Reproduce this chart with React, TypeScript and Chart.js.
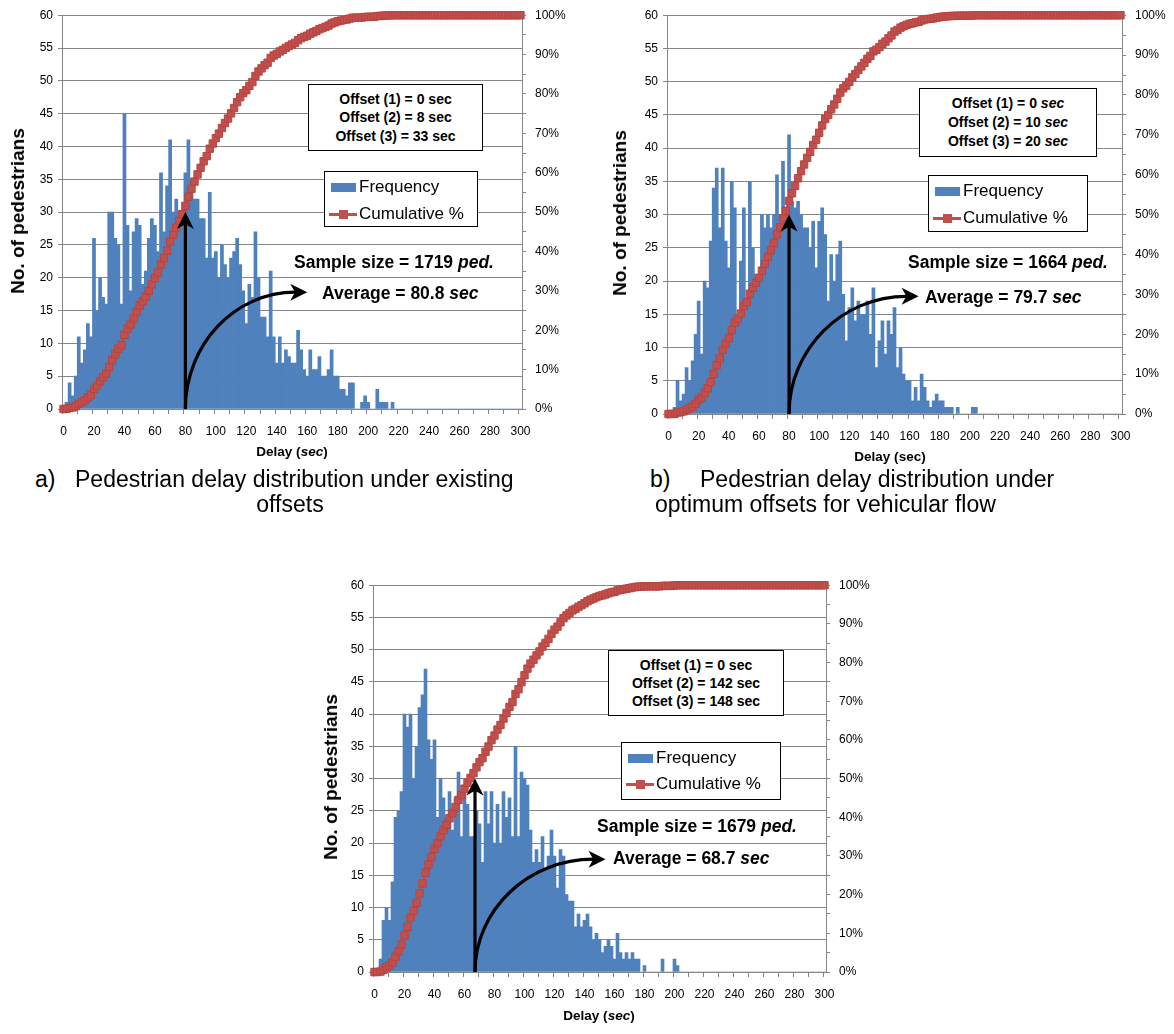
import React, { useEffect, useRef } from "react";
import { Chart, registerables } from "chart.js";

Chart.register(...registerables);

// ---------------- DATA ----------------
// Delay bins (sec), 2-second bins from 0 to 300
const DELAY_CATEGORIES: string[] = Array.from({ length: 151 }, (_, i) => String(i * 2));

// a) existing offsets – frequency per bin (No. of pedestrians)
const FREQ_EXISTING: number[] = [
  0, 1, 4, 2, 5, 11, 7, 9, 13, 11,
  26, 15, 20, 17, 16, 30, 30, 26, 25, 16,
  45, 28, 18, 27, 29, 28, 19, 21, 26, 29,
  28, 24, 36, 27, 34, 41, 30, 32, 30, 30,
  36, 41, 35, 32, 32, 29, 29, 23, 33, 23,
  24, 20, 25, 22, 20, 23, 24, 26, 22, 18,
  13, 19, 17, 27, 20, 14, 14, 11, 21, 11,
  7, 11, 7, 9, 8, 7, 7, 12, 9, 6,
  5, 9, 6, 6, 8, 5, 5, 6, 9, 5,
  5, 3, 3, 2, 4, 4, 0, 0, 1, 2,
  1, 0, 0, 3, 1, 1, 1, 0, 1, 0,
  0, 0, 0, 0, 0, 0, 0, 0, 0, 0,
  0, 0, 0, 0, 0, 0, 0, 0, 0, 0,
  0, 0, 0, 0, 0, 0, 0, 0, 0, 0,
  0, 0, 0, 0, 0, 0, 0, 0, 0, 0,
  0,
];

// b) optimum offsets for vehicular flow
const FREQ_VEHICULAR: number[] = [
  0, 0, 1, 5, 2, 3, 7, 5, 8, 12,
  17, 9, 20, 19, 26, 34, 37, 28, 37, 26,
  22, 35, 31, 15, 23, 31, 17, 35, 25, 21,
  21, 30, 28, 30, 28, 30, 36, 30, 38, 31,
  42, 32, 31, 32, 30, 28, 28, 25, 29, 22,
  29, 31, 27, 17, 24, 20, 24, 26, 18, 11,
  16, 19, 14, 17, 15, 15, 17, 12, 19, 7,
  11, 14, 9, 14, 12, 16, 7, 10, 6, 5,
  5, 2, 4, 2, 6, 4, 2, 1, 2, 3,
  2, 2, 1, 1, 1, 0, 1, 0, 0, 0,
  0, 1, 1, 0, 0, 0, 0, 0, 0, 0,
  0, 0, 0, 0, 0, 0, 0, 0, 0, 0,
  0, 0, 0, 0, 0, 0, 0, 0, 0, 0,
  0, 0, 0, 0, 0, 0, 0, 0, 0, 0,
  0, 0, 0, 0, 0, 0, 0, 0, 0, 0,
  0,
];

// c) offsets 0 / 142 / 148 sec
const FREQ_PEDESTRIAN: number[] = [
  0, 0, 2, 8, 10, 8, 14, 24, 25, 28,
  40, 38, 40, 30, 35, 41, 43, 47, 36, 33,
  36, 24, 30, 27, 24, 28, 22, 27, 31, 21,
  28, 26, 21, 21, 25, 23, 17, 28, 23, 28,
  20, 26, 20, 28, 24, 27, 21, 35, 21, 31,
  30, 29, 22, 17, 19, 17, 21, 16, 18, 22,
  18, 13, 19, 18, 12, 11, 11, 7, 9, 7,
  8, 9, 7, 5, 6, 5, 3, 4, 5, 4,
  2, 6, 3, 2, 3, 2, 3, 2, 2, 0,
  1, 0, 0, 0, 0, 0, 2, 0, 0, 0,
  2, 1, 0, 0, 0, 0, 0, 0, 0, 0,
  0, 0, 0, 0, 0, 0, 0, 0, 0, 0,
  0, 0, 0, 0, 0, 0, 0, 0, 0, 0,
  0, 0, 0, 0, 0, 0, 0, 0, 0, 0,
  0, 0, 0, 0, 0, 0, 0, 0, 0, 0,
  0,
];

// Cumulative % is the running share of the frequencies (as in the source workbook)
function cumulativeShare(freq: number[]): number[] {
  const total = freq.reduce((s, v) => s + v, 0);
  let run = 0;
  return freq.map((v) => {
    run += v;
    return run / total;
  });
}

// ---------------- STYLE ----------------
const FONT = "'Liberation Sans', Arial, Helvetica, sans-serif";
const GRID = "#868686";
const BAR = "#4F81BD";
const RED = "#C0504D";

type Rect = { l: number; t: number; r: number; b: number };

type PanelCfg = {
  id: string;
  freq: number[];
  plot: Rect;
  padRight: number;
  arrowSec: number;
  arrowTipValue: number;
  curveEndSec: number;
  curveEndValue: number;
};

const Y_AXIS_W = 40;
const Y1_AXIS_W = 50;
const X_AXIS_H = 30;
const PAD_LEFT = 22;
const PAD_TOP = 14;
const PAD_BOTTOM = 6;

function drawHead(ctx: CanvasRenderingContext2D, x: number, y: number, ang: number, len: number, half: number) {
  ctx.save();
  ctx.translate(x, y);
  ctx.rotate(ang);
  ctx.beginPath();
  ctx.moveTo(0, 0);
  ctx.lineTo(-len, -half);
  ctx.lineTo(-len * 0.72, 0);
  ctx.lineTo(-len, half);
  ctx.closePath();
  ctx.fill();
  ctx.restore();
}

function arrowPlugin(cfg: PanelCfg) {
  return {
    id: "arrows_" + cfg.id,
    afterDatasetsDraw(chart: any) {
      const ctx: CanvasRenderingContext2D = chart.ctx;
      const xs = chart.scales.x;
      const ys = chart.scales.y;
      const x0 = xs.getPixelForValue(cfg.arrowSec / 2);
      const yb = ys.getPixelForValue(0);
      const yTip = ys.getPixelForValue(cfg.arrowTipValue);
      const x1 = xs.getPixelForValue(cfg.curveEndSec / 2);
      const y1 = ys.getPixelForValue(cfg.curveEndValue);
      const len = 17;
      const half = 8.5;
      ctx.save();
      ctx.strokeStyle = "#000";
      ctx.fillStyle = "#000";
      ctx.lineWidth = 3.2;
      ctx.lineCap = "butt";
      // vertical arrow
      ctx.beginPath();
      ctx.moveTo(x0, yb);
      ctx.lineTo(x0, yTip + len * 0.7);
      ctx.stroke();
      drawHead(ctx, x0, yTip, -Math.PI / 2, len, half);
      // curved arrow (quarter ellipse)
      const xe = x1 - len * 0.7;
      const k = 0.552;
      ctx.beginPath();
      ctx.moveTo(x0, yb);
      ctx.bezierCurveTo(x0, yb - k * (yb - y1), xe - k * (xe - x0), y1, xe, y1);
      ctx.stroke();
      drawHead(ctx, x1, y1, 0, len, half);
      ctx.restore();
    },
  };
}

const PANELS: PanelCfg[] = [
  {
    id: "a",
    freq: FREQ_EXISTING,
    plot: { l: 62, t: 12.7, r: 522, b: 408.7 },
    padRight: 28,
    arrowSec: 80,
    arrowTipValue: 30,
    curveEndSec: 160,
    curveEndValue: 17.8,
  },
  {
    id: "b",
    freq: FREQ_VEHICULAR,
    plot: { l: 667, t: 12.7, r: 1122, b: 414 },
    padRight: 2,
    arrowSec: 80,
    arrowTipValue: 30,
    curveEndSec: 166,
    curveEndValue: 17.7,
  },
  {
    id: "c",
    freq: FREQ_PEDESTRIAN,
    plot: { l: 373, t: 582.5, r: 826, b: 971.5 },
    padRight: 28,
    arrowSec: 67,
    arrowTipValue: 30,
    curveEndSec: 154,
    curveEndValue: 17.5,
  },
];

function ChartPanel({ cfg }: { cfg: PanelCfg }) {
  const ref = useRef<HTMLCanvasElement | null>(null);
  const left = cfg.plot.l - Y_AXIS_W - PAD_LEFT;
  const top = cfg.plot.t - PAD_TOP;
  const width = cfg.plot.r + Y1_AXIS_W + cfg.padRight - left;
  const height = cfg.plot.b + X_AXIS_H + PAD_BOTTOM - top;

  useEffect(() => {
    if (!ref.current) return;
    const tickFont = { family: FONT, size: 12 };
    const chart = new Chart(ref.current, {
      type: "bar",
      data: {
        labels: DELAY_CATEGORIES,
        datasets: [
          {
            type: "line",
            label: "Cumulative %",
            data: cumulativeShare(cfg.freq),
            yAxisID: "y1",
            borderColor: RED,
            borderWidth: 2.5,
            pointStyle: "rect",
            pointRadius: 5.2,
            pointBackgroundColor: RED,
            pointBorderColor: "#B8433F",
            pointBorderWidth: 1,
            tension: 0,
            clip: false,
            order: 1,
          } as any,
          {
            type: "bar",
            label: "Frequency",
            data: cfg.freq,
            yAxisID: "y",
            backgroundColor: BAR,
            borderWidth: 0,
            barPercentage: 1,
            categoryPercentage: 1,
            order: 2,
          } as any,
        ],
      },
      options: {
        responsive: false,
        maintainAspectRatio: false,
        animation: false,
        events: [],
        layout: {
          autoPadding: false,
          padding: { left: PAD_LEFT, right: cfg.padRight, top: PAD_TOP, bottom: PAD_BOTTOM },
        },
        plugins: { legend: { display: false }, tooltip: { enabled: false } },
        scales: {
          x: {
            type: "category",
            offset: true,
            grid: {
              offset: true,
              drawOnChartArea: false,
              drawTicks: true,
              tickLength: 5,
              tickWidth: 1,
              tickColor: (c: any) => (c.index % 5 === 0 ? GRID : "rgba(0,0,0,0)"),
            },
            border: { display: true, color: GRID, width: 1 },
            ticks: {
              autoSkip: false,
              maxRotation: 0,
              minRotation: 0,
              padding: 10,
              color: "#000",
              font: tickFont,
              callback: (_v: any, i: number) => (i % 10 === 0 ? DELAY_CATEGORIES[i] : ""),
            },
            afterFit: (s: any) => {
              s.height = X_AXIS_H;
            },
          },
          y: {
            type: "linear",
            position: "left",
            min: 0,
            max: 60,
            ticks: {
              stepSize: 2.5,
              padding: 5,
              color: "#000",
              font: tickFont,
              callback: (v: any) => (Number(v) % 5 === 0 ? String(v) : ""),
            },
            grid: {
              color: (c: any) => (c.tick && c.tick.value % 5 === 0 ? GRID : "rgba(0,0,0,0)"),
              lineWidth: 1,
              tickColor: GRID,
              tickLength: 4,
            },
            border: { display: true, color: GRID, width: 1 },
            afterFit: (s: any) => {
              s.width = Y_AXIS_W;
            },
          },
          y1: {
            type: "linear",
            position: "right",
            min: 0,
            max: 1,
            ticks: {
              stepSize: 0.05,
              padding: 9,
              color: "#000",
              font: tickFont,
              callback: (v: any) => {
                const p = Math.round(Number(v) * 100);
                return p % 10 === 0 ? p + "%" : "";
              },
            },
            grid: { drawOnChartArea: false, tickColor: GRID, tickLength: 4 },
            border: { display: true, color: GRID, width: 1 },
            afterFit: (s: any) => {
              s.width = Y1_AXIS_W;
            },
          },
        },
      } as any,
      plugins: [arrowPlugin(cfg)],
    });
    return () => chart.destroy();
  }, [cfg]);

  return (
    <canvas
      ref={ref}
      width={width}
      height={height}
      style={{ position: "absolute", left, top, width, height }}
    />
  );
}

// ---------------- OVERLAY TEXT ----------------
type Overlay = {
  box: { l: number; t: number; w: number; h: number; lh: number; lines: React.ReactNode[] };
  legend: { l: number; t: number; w: number; h: number; r1: number; r2: number };
  sample: { cx: number; cy: number; n: string };
  average: { l: number; cy: number; v: string };
  yTitle: { cx: number; cy: number };
  xTitle: { cx: number; cy: number; italic: boolean };
};

const OVERLAYS: Overlay[] = [
  {
    box: {
      l: 308, t: 84, w: 175, h: 67, lh: 18.5,
      lines: [<>Offset (1) = 0 sec</>, <>Offset (2) = 8 sec</>, <>Offset (3) = 33 sec</>],
    },
    legend: { l: 324, t: 171, w: 154, h: 56, r1: 15, r2: 42 },
    sample: { cx: 394, cy: 262, n: "1719" },
    average: { l: 322, cy: 293, v: "80.8" },
    yTitle: { cx: 18, cy: 211 },
    xTitle: { cx: 292, cy: 451, italic: true },
  },
  {
    box: {
      l: 919, t: 88, w: 178, h: 69, lh: 19,
      lines: [
        <>Offset (1) = 0 <i>sec</i></>,
        <>Offset (2) = 10 <i>sec</i></>,
        <>Offset (3) = 20 <i>sec</i></>,
      ],
    },
    legend: { l: 928, t: 175, w: 160, h: 57, r1: 15, r2: 42 },
    sample: { cx: 1008, cy: 262, n: "1664" },
    average: { l: 925, cy: 297, v: "79.7" },
    yTitle: { cx: 620, cy: 213 },
    xTitle: { cx: 890, cy: 456, italic: false },
  },
  {
    box: {
      l: 608, t: 650, w: 176, h: 66, lh: 18,
      lines: [<>Offset (1) = 0 sec</>, <>Offset (2) = 142 sec</>, <>Offset (3) = 148 sec</>],
    },
    legend: { l: 621, t: 742, w: 160, h: 58, r1: 15, r2: 41 },
    sample: { cx: 697, cy: 826, n: "1679" },
    average: { l: 613, cy: 858, v: "68.7" },
    yTitle: { cx: 331, cy: 777 },
    xTitle: { cx: 599, cy: 1015, italic: true },
  },
];

const abs = (s: React.CSSProperties): React.CSSProperties => ({ position: "absolute", whiteSpace: "nowrap", ...s });

function OverlayLayer({ o }: { o: Overlay }) {
  return (
    <>
      <div
        style={abs({
          left: o.box.l, top: o.box.t, width: o.box.w, height: o.box.h,
          boxSizing: "border-box", border: "1px solid #000", background: "#fff",
          display: "flex", flexDirection: "column", justifyContent: "center", alignItems: "center",
          fontWeight: "bold", fontSize: 14, lineHeight: o.box.lh + "px", color: "#000",
        })}
      >
        {o.box.lines.map((ln, i) => (
          <div key={i}>{ln}</div>
        ))}
      </div>

      <div
        style={abs({
          left: o.legend.l, top: o.legend.t, width: o.legend.w, height: o.legend.h,
          boxSizing: "border-box", border: "1px solid #000", background: "#fff",
        })}
      >
        <div style={abs({ left: 6, top: o.legend.r1 - 4.5, width: 25, height: 9, background: BAR })} />
        <div style={abs({ left: 34, top: o.legend.r1, transform: "translateY(-50%)", fontSize: 17, color: "#000" })}>Frequency</div>
        <div style={abs({ left: 4, top: o.legend.r2 - 1.5, width: 28, height: 3, background: RED })} />
        <div style={abs({ left: 14, top: o.legend.r2 - 4.5, width: 9, height: 9, background: RED })} />
        <div style={abs({ left: 34, top: o.legend.r2, transform: "translateY(-50%)", fontSize: 17, color: "#000" })}>Cumulative %</div>
      </div>

      <div style={abs({ left: o.sample.cx, top: o.sample.cy, transform: "translate(-50%,-50%)", fontWeight: "bold", fontSize: 17.5 })}>
        Sample size = {o.sample.n} <i>ped.</i>
      </div>
      <div style={abs({ left: o.average.l, top: o.average.cy, transform: "translateY(-50%)", fontWeight: "bold", fontSize: 17.5 })}>
        Average = {o.average.v} <i>sec</i>
      </div>

      <div
        style={abs({
          left: o.yTitle.cx, top: o.yTitle.cy, transform: "translate(-50%,-50%) rotate(-90deg)",
          fontWeight: "bold", fontSize: 19,
        })}
      >
        No. of pedestrians
      </div>
      <div style={abs({ left: o.xTitle.cx, top: o.xTitle.cy, transform: "translate(-50%,-50%)", fontWeight: "bold", fontSize: 13.5 })}>
        Delay (
        {o.xTitle.italic ? <i>sec</i> : "sec"})
      </div>
    </>
  );
}

const CAPTION_SIZE = 23;

export default function App() {
  return (
    <div
      style={{
        position: "absolute", left: 0, top: 0, width: 1174, height: 1034, overflow: "hidden",
        background: "#fff", fontFamily: FONT, color: "#000",
      }}
    >
      {PANELS.map((p) => (
        <ChartPanel key={p.id} cfg={p} />
      ))}
      {OVERLAYS.map((o, i) => (
        <OverlayLayer key={i} o={o} />
      ))}

      <div style={abs({ left: 35, top: 479, transform: "translateY(-50%)", fontSize: CAPTION_SIZE })}>a)</div>
      <div style={abs({ left: 75, top: 479, transform: "translateY(-50%)", fontSize: CAPTION_SIZE })}>
        Pedestrian delay distribution under existing
      </div>
      <div style={abs({ left: 290, top: 504, transform: "translate(-50%,-50%)", fontSize: CAPTION_SIZE })}>offsets</div>

      <div style={abs({ left: 650, top: 479, transform: "translateY(-50%)", fontSize: CAPTION_SIZE })}>b)</div>
      <div style={abs({ left: 700, top: 479, transform: "translateY(-50%)", fontSize: CAPTION_SIZE })}>
        Pedestrian delay distribution under
      </div>
      <div style={abs({ left: 655, top: 504, transform: "translateY(-50%)", fontSize: CAPTION_SIZE })}>
        optimum offsets for vehicular flow
      </div>
    </div>
  );
}
